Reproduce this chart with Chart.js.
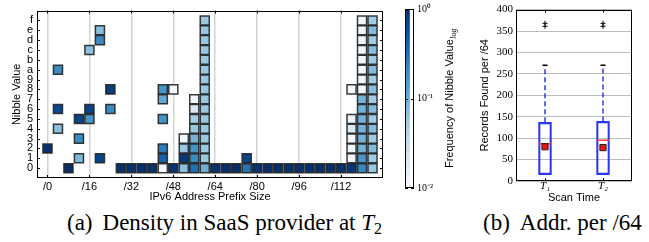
<!DOCTYPE html>
<html><head><meta charset="utf-8">
<script src="https://cdn.jsdelivr.net/npm/chart.js@4.4.1/dist/chart.umd.min.js"></script>
<style>
html,body{margin:0;padding:0;background:#fff;width:649px;height:242px;overflow:hidden;}
.box{position:absolute;}
.cap{position:absolute;font-family:'Liberation Serif','Times New Roman',serif;font-size:23px;color:#000;white-space:nowrap;line-height:23px;}
.cap .s{font-size:16px;position:relative;top:4px;}
.cap .g{display:inline-block;width:10px;}
</style></head><body>
<div class="box" style="left:0;top:0;"><canvas id="heat" width="395" height="205"></canvas></div>
<div class="box" style="left:395px;top:0;"><canvas id="cbar" width="75" height="205"></canvas></div>
<div class="box" style="left:470px;top:0;"><canvas id="boxp" width="179" height="205"></canvas></div>
<div class="cap" style="left:67px;top:211px">(a)<span class="g"></span>Density in SaaS provider at <i>T</i><span class="s">2</span></div>
<div class="cap" style="left:483px;top:211px">(b)<span class="g"></span>Addr. per /64</div>
<script>
// ---------- Heatmap data (prefix bit offset, nibble value, frequency) ----------
const prefixBits = [
  0,
  4,4,4,
  8,
  12,12,12,
  16,16,16,
  20,20,20,
  24,24,
  28,32,36,40,
  44,44,44,44,44,44,
  48,48,
  52,52,52,52,
  56,56,56,56,56,56,56,56,
  60,60,60,60,60,60,60,60,60,60,60,60,60,60,60,60,
  64,68,72,76,76,80,84,88,92,96,100,104,108,112,
  116,116,116,116,116,116,116,
  120,120,120,120,120,120,120,120,120,120,120,120,120,120,120,120,
  124,124,124,124,124,124,124,124,124,124,124,124,124,124,124,124
];
const nibbleValues = [
  2,
  10,6,4,
  0,
  5,3,1,
  12,6,5,
  14,13,1,
  8,6,
  0,0,0,0,
  8,7,5,2,1,0,
  8,0,
  3,2,1,0,
  7,6,5,4,3,2,1,0,
  0,1,2,3,4,5,6,7,8,9,10,11,12,13,14,15,
  0,0,0,0,1,0,0,0,0,0,0,0,0,0,
  8,5,4,3,2,1,0,
  0,1,2,3,4,5,6,7,8,9,10,11,12,13,14,15,
  0,1,2,3,4,5,6,7,8,9,10,11,12,13,14,15
];
const nibbleFreq = [
  0.95,
  0.2,0.65,0.07,
  1.0,
  0.7,0.2,0.08,
  0.07,0.7,0.16,
  0.07,0.2,0.7,
  0.8,0.2,
  1.0,1.0,1.0,1.0,
  0.17,0.11,0.17,0.26,0.42,0.011,
  0.011,0.95,
  0.012,0.06,0.85,0.07,
  0.012,0.02,0.05,0.06,0.09,0.17,0.2,0.32,
  0.1,0.06,0.06,0.06,0.06,0.06,0.06,0.06,0.06,0.06,0.06,0.06,0.06,0.06,0.06,0.06,
  1.0,1.0,1.0,0.3,0.7,1.0,1.0,1.0,1.0,1.0,1.0,1.0,1.0,1.0,
  0.011,0.013,0.02,0.012,0.012,0.012,0.9,
  0.22,0.16,0.09,0.09,0.09,0.09,0.09,0.09,0.012,0.012,0.012,0.012,0.012,0.012,0.012,0.012,
  0.06,0.055,0.075,0.055,0.075,0.055,0.075,0.055,0.075,0.055,0.075,0.055,0.075,0.055,0.075,0.055
];
const xTickBits = [0,16,32,48,64,80,96,112];
const xTickLabels = ['/0','/16','/32','/48','/64','/80','/96','/112'];
const nibbleTicks = [0,1,2,3,4,5,6,7,8,9,10,11,12,13,14,15];
const nibbleLabels = ['0','1','2','3','4','5','6','7','8','9','a','b','c','d','e','f'];
const freqMin = 0.01, freqMax = 1;
const cbarTicks = [1, 0.1, 0.01];
const cbarLabels = ['10\u2070','10\u207B\u00B9','10\u207B\u00B2'];

// ---------- Box plot data (records found per /64) ----------
const scanLabels = ['T\u2081','T\u2082'];
const boxQ1 = [15, 15];
const boxQ3 = [137, 139];
const boxMedian = [87, 95];
const boxMean = [80, 78];
const whiskerHigh = [270, 270];
const outlierVals = [[361, 368], [361, 368]];
const boxTicks = [0,50,100,150,200,250,300,350,400];

// ---------- styling helpers ----------
Chart.defaults.font.family = "'Liberation Sans', Arial, sans-serif";
Chart.defaults.color = '#000';
const Blues = ['#f7fbff','#deebf7','#c6dbef','#9ecae1','#6baed6','#4292c6','#2171b5','#08519c','#08306b'];
function hexRgb(h){return [parseInt(h.substr(1,2),16),parseInt(h.substr(3,2),16),parseInt(h.substr(5,2),16)];}
function bluesColor(t){
  t = Math.max(0, Math.min(1, t));
  const p = t*8, i = Math.min(7, Math.floor(p)), f = p - i;
  const a = hexRgb(Blues[i]), b = hexRgb(Blues[i+1]);
  return 'rgb(' + a.map((v,k)=>Math.round(v+(b[k]-v)*f)).join(',') + ')';
}
function freqColor(f){
  return bluesColor((Math.log10(f)-Math.log10(freqMin))/(Math.log10(freqMax)-Math.log10(freqMin)));
}

const framePlugin = {
  id:'frame',
  afterDraw(chart){
    const a = chart.chartArea, c = chart.ctx;
    c.save(); c.strokeStyle = '#000'; c.lineWidth = 1;
    c.strokeRect(Math.round(a.left)+0.5, Math.round(a.top)+0.5, Math.round(a.right-a.left)-1, Math.round(a.bottom-a.top)-1);
    c.restore();
  }
};
const innerTicksPlugin = {
  id:'innerTicks',
  afterDraw(chart, args, opts){
    const a = chart.chartArea, c = chart.ctx;
    const len = opts.len || 4;
    c.save(); c.strokeStyle = '#000'; c.lineWidth = 1;
    if (opts.yScale) {
      const ys = chart.scales[opts.yScale];
      ys.ticks.forEach(t => {
        const y = Math.round(ys.getPixelForValue(t.value)) + 0.5;
        c.beginPath();
        c.moveTo(a.left, y); c.lineTo(a.left + len, y);
        c.moveTo(a.right - len, y); c.lineTo(a.right, y);
        c.stroke();
      });
    }
    if (opts.xScale) {
      const xs = chart.scales[opts.xScale];
      xs.ticks.forEach((t, i) => {
        const x = Math.round(xs.getPixelForTick(i)) + 0.5;
        c.beginPath();
        c.moveTo(x, a.bottom); c.lineTo(x, a.bottom - len);
        c.moveTo(x, a.top); c.lineTo(x, a.top + len);
        c.stroke();
      });
    }
    c.restore();
  }
};

// ---------- Heatmap ----------
new Chart(document.getElementById('heat'), {
  type:'scatter',
  data:{datasets:[{
    data: prefixBits.map((b,i)=>({x:b, y:nibbleValues[i]})),
    pointStyle:'rect', pointRadius:6.4, pointHoverRadius:6.4,
    backgroundColor: nibbleFreq.map(freqColor),
    borderColor:'rgba(35,35,35,0.9)', borderWidth:1.5
  }]},
  options:{
    responsive:false, animation:false, events:[],
    layout:{padding:{left:0, top:9, right:12, bottom:0}},
    plugins:{legend:{display:false}, tooltip:{enabled:false}, innerTicks:{yScale:'y', xScale:'x', len:3}},
    scales:{
      x:{type:'linear', min:-4, max:128,
        afterBuildTicks: s => { s.ticks = xTickBits.map(v=>({value:v})); },
        afterFit: s => { s.height = 27; },
        grid:{color:'#d4d4d4', lineWidth:1.5, drawTicks:false},
        border:{display:false},
        ticks:{autoSkip:false, maxRotation:0, padding:2, font:{size:11}, callback:(v,i)=>xTickLabels[i]},
        title:{display:true, text:'IPv6 Address Prefix Size', font:{size:11}, padding:{top:0,bottom:1}}
      },
      y:{type:'linear', min:-1, max:16,
        afterBuildTicks: s => { s.ticks = nibbleTicks.map(v=>({value:v})); },
        afterFit: s => { s.width = 37; },
        grid:{display:false, drawTicks:false},
        border:{display:false},
        ticks:{autoSkip:false, padding:4, font:{size:11}, callback:(v,i)=>nibbleLabels[i]},
        title:{display:true, text:'Nibble Value', font:{size:11}, padding:{top:10,bottom:0}}
      }
    }
  },
  plugins:[framePlugin, innerTicksPlugin]
});

// ---------- Colorbar ----------
const cbTitlePlugin = {
  id:'cbTitle',
  afterDraw(chart){
    const c = chart.ctx, a = chart.chartArea;
    const main = 'Frequency of Nibble Value', sub = 'log';
    c.save();
    c.translate(55, (a.top + a.bottom)/2);
    c.rotate(-Math.PI/2);
    c.fillStyle = '#000';
    c.font = "11px 'Liberation Sans', Arial, sans-serif";
    const w1 = c.measureText(main).width;
    c.font = "italic 8px 'Liberation Serif', serif";
    const w2 = c.measureText(sub).width;
    const x0 = -(w1 + w2)/2;
    c.textBaseline = 'middle';
    c.font = "11px 'Liberation Sans', Arial, sans-serif";
    c.fillText(main, x0, 0);
    c.font = "italic 8px 'Liberation Serif', serif";
    c.fillText(sub, x0 + w1 + 0.5, 3.5);
    c.restore();
  }
};
new Chart(document.getElementById('cbar'), {
  type:'bar',
  data:{labels:[''], datasets:[{
    data:[[freqMin, freqMax]],
    barPercentage:1, categoryPercentage:1, borderWidth:0,
    backgroundColor:(ctx)=>{
      const ch = ctx.chart, a = ch.chartArea;
      if (!a) return '#6baed6';
      const g = ch.ctx.createLinearGradient(0, a.bottom, 0, a.top);
      Blues.forEach((col,i)=>g.addColorStop(i/(Blues.length-1), col));
      return g;
    }
  }]},
  options:{
    responsive:false, animation:false, events:[],
    layout:{padding:{left:10, top:9, right:0, bottom:17}},
    plugins:{legend:{display:false}, tooltip:{enabled:false}, innerTicks:{yScale:'y', len:3}},
    scales:{
      x:{display:false, offset:false},
      y:{type:'logarithmic', position:'right', min:freqMin, max:freqMax,
        afterBuildTicks: s => { s.ticks = cbarTicks.map(v=>({value:v})); },
        afterFit: s => { s.width = 56; },
        grid:{display:false, drawTicks:false}, border:{display:false},
        ticks:{padding:3, font:{family:"'Liberation Serif', serif", size:10}, callback:(v,i)=>cbarLabels[i]}
      }
    }
  },
  plugins:[framePlugin, innerTicksPlugin, cbTitlePlugin]
});

// ---------- Box plot ----------
const boxBlue = '#2a36f0';
const whiskerSets = scanLabels.map((lab,i)=>({
  type:'line', order:4,
  data:[{x:lab, y:boxQ3[i]}, {x:lab, y:whiskerHigh[i]}],
  borderColor:boxBlue, borderWidth:1.5, borderDash:[5,3], pointRadius:0, fill:false
}));
new Chart(document.getElementById('boxp'), {
  type:'bar',
  data:{labels:scanLabels, datasets:[
    {type:'bar', order:5, data: boxQ1.map((v,i)=>[v, boxQ3[i]]),
      backgroundColor:'rgba(0,0,0,0)', borderColor:boxBlue, borderWidth:1.5, borderSkipped:false, barThickness:13},
    ...whiskerSets,
    {type:'line', order:3, showLine:false, data: scanLabels.map((l,i)=>({x:l, y:whiskerHigh[i]})),
      pointStyle:'line', pointRadius:2.5, borderColor:'#000', borderWidth:1.5},
    {type:'line', order:2, showLine:false,
      data: scanLabels.flatMap((l,i)=>outlierVals[i].map(v=>({x:l, y:v}))),
      pointStyle:'cross', pointRadius:2.5, borderColor:'#000', borderWidth:1},
    {type:'line', order:1, showLine:false, data: scanLabels.map((l,i)=>({x:l, y:boxMedian[i]})),
      pointStyle:'line', pointRadius:6.5, borderColor:'#ff4040', borderWidth:1.5},
    {type:'line', order:0, showLine:false, data: scanLabels.map((l,i)=>({x:l, y:boxMean[i]})),
      pointStyle:'rect', pointRadius:4.4, backgroundColor:'#ee1111', borderColor:'#222', borderWidth:1}
  ]},
  options:{
    responsive:false, animation:false, events:[],
    layout:{padding:{left:0, top:9, right:17, bottom:0}},
    plugins:{legend:{display:false}, tooltip:{enabled:false}, innerTicks:{xScale:'x', len:3}},
    scales:{
      x:{type:'category', offset:true,
        afterFit: s => { s.height = 24; },
        grid:{display:false, drawTicks:false}, border:{display:false},
        ticks:{padding:-1, font:{family:"'Liberation Serif', serif", style:'italic', size:11}},
        title:{display:true, text:'Scan Time', font:{size:11}, padding:{top:0,bottom:0}}
      },
      y:{type:'linear', min:0, max:400,
        afterBuildTicks: s => { s.ticks = boxTicks.map(v=>({value:v})); },
        afterFit: s => { s.width = 46; },
        grid:{color:'#bdbdbd', lineWidth:1, drawTicks:false}, border:{display:false},
        ticks:{padding:3, font:{family:"'Liberation Serif', serif", size:11}},
        title:{display:true, text:'Records Found per /64', font:{size:11}, padding:{top:8,bottom:0}}
      }
    }
  },
  plugins:[framePlugin, innerTicksPlugin]
});
</script>
</body></html>
